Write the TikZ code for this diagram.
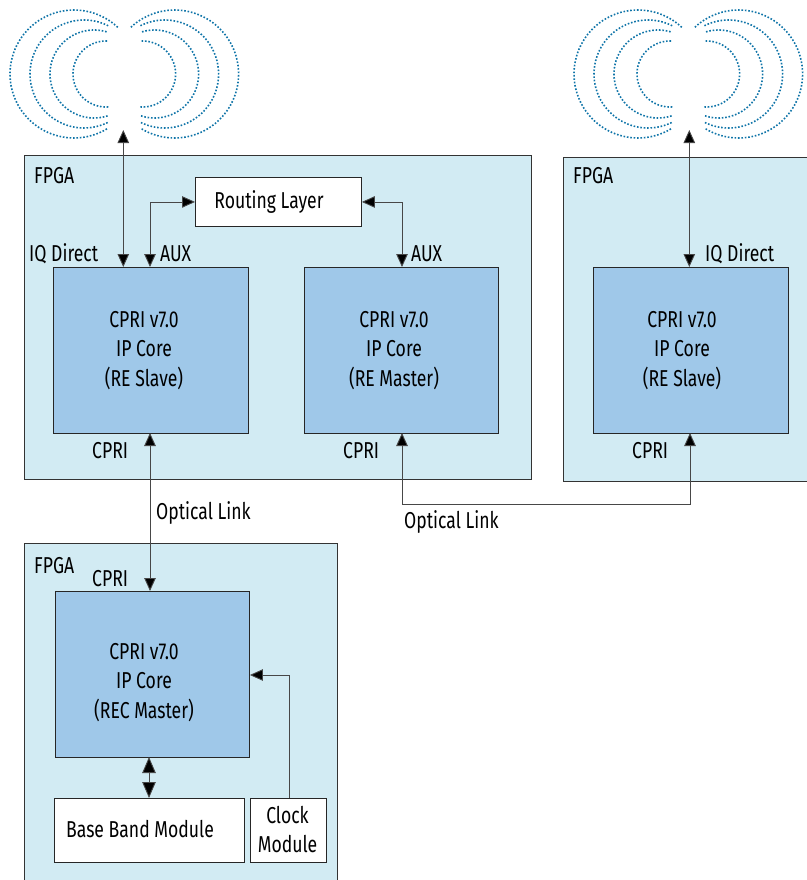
\documentclass[tikz,border=0pt]{standalone}
\usepackage{fontspec}
\setmainfont[FakeStretch=0.765]{Fira Sans}
\usetikzlibrary{arrows.meta}
\definecolor{fpgafill}{HTML}{D2EBF3}
\definecolor{corefill}{HTML}{9FC8E9}
\definecolor{dotblue}{HTML}{0F74A8}
\tikzset{
  fpgabox/.style={draw=black!80,fill=fpgafill,line width=0.9pt},
  corebox/.style={draw=black!85,fill=corefill,line width=0.9pt},
  whitebox/.style={draw=black!85,fill=white,line width=0.9pt},
  boxtext/.style={align=center,font=\fontsize{23}{29.3}\selectfont,inner sep=0pt,text=black},
  lbl/.style={font=\fontsize{23}{26}\selectfont,inner sep=0pt,text=black},
  link/.style={draw=black!72,line width=0.9pt,{Triangle[length=13pt,width=11.5pt,fill=black]}-{Triangle[length=13pt,width=11.5pt,fill=black]}},
  onelink/.style={draw=black!72,line width=0.9pt,-{Triangle[length=13pt,width=11.5pt,fill=black]}},
  biglink/.style={draw=black!72,line width=0.9pt,{Triangle[length=16pt,width=13.5pt,fill=black]}-{Triangle[length=16pt,width=13.5pt,fill=black]}},
  wave/.style={draw=dotblue,line width=1.6pt,dash pattern=on 1.6pt off 1.8pt}
}
\newcommand{\rect}[6]{\node[#1,minimum width=#4pt-#2pt,minimum height=#5pt-#3pt,anchor=north west,inner sep=0pt] (#6) at (#2,#3) {};}
\begin{document}
\begin{tikzpicture}[x=1pt,y=-1pt]
\useasboundingbox (0,0) rectangle (806,880);
% antennas
\foreach \ax in {124.3,688.3}{
 \foreach \s in {1,-1}{
  \foreach \co/\r/\a/\b in {18.3/33/86/274, 30.3/44/72/287, 40.3/54/64/298, 50.3/64/59/314}{
   \draw[wave] plot[domain=\a:\b,samples=70] ({\ax+\s*(-\co+\r*cos(\x))},{74+\r*sin(\x)});
  }
 }
}
% FPGA boxes
\rect{fpgabox}{23.5}{155}{531}{479}{fpgaA}
\rect{fpgabox}{563}{157}{812}{481}{fpgaB}
\rect{fpgabox}{23.5}{543}{337}{886}{fpgaC}
\node[lbl,anchor=west] (fa) at (34,176) {FPGA};
\node[lbl,anchor=west] (fb) at (573,176) {FPGA};
\node[lbl,anchor=west] (fc) at (34,566) {FPGA};
% cores
\rect{corebox}{53}{267}{248}{433}{coreA}
\rect{corebox}{304}{267}{498}{433}{coreB}
\rect{corebox}{593}{267}{788}{433}{coreC}
\rect{corebox}{55}{591}{249}{757}{coreD}
\node[boxtext] (tA) at (144,350.5) {CPRI v7.0\\IP Core\\(RE Slave)};
\node[boxtext] (tB) at (394,350.5) {CPRI v7.0\\IP Core\\(RE Master)};
\node[boxtext] (tC) at (682,350.5) {CPRI v7.0\\IP Core\\(RE Slave)};
\node[boxtext] (tD) at (144,682.5) {CPRI v7.0\\IP Core\\(REC Master)};
% white
\rect{whitebox}{195}{177}{361}{226}{route}
\rect{whitebox}{54}{798}{244}{862}{base}
\rect{whitebox}{250}{798}{326}{862}{clock}
\node[boxtext] (tR) at (269,201.5) {Routing Layer};
\node[boxtext] (tBB) at (140,829.5) {Base Band Module};
\node[boxtext] (tCk) at (287.5,829.5) {Clock\\Module};
% named free ends
\coordinate (antA) at (123.3,130);
\coordinate (antB) at (689.3,130);
% connectors
\draw[link] (antA) -- (antA |- coreA.north);
\draw[link] (antB) -- (antB |- coreC.north);
\draw[link] (150,267) |- (route.west);
\draw[link] (route.east) -| (402,267);
\draw[link] (150,433) -- (150,591);
\draw[link] (402,433) |- (690,504) -- (690,433);
\draw[onelink] (289,798) |- (coreD.east |- 0,675);
\draw[biglink] (149,757) -- (149,798);
% labels
\node[lbl,anchor=west] (l1) at (29,254) {IQ Direct};
\node[lbl,anchor=west] (l2) at (160,254) {AUX};
\node[lbl,anchor=west] (l3) at (411,254) {AUX};
\node[lbl,anchor=west] (l4) at (705,254) {IQ Direct};
\node[lbl,anchor=west] (l5) at (92,451) {CPRI};
\node[lbl,anchor=west] (l6) at (343,451) {CPRI};
\node[lbl,anchor=west] (l7) at (632,451) {CPRI};
\node[lbl,anchor=west] (l8) at (92,579) {CPRI};
\node[lbl,anchor=west] (l9) at (156,513) {Optical Link};
\node[lbl,anchor=west] (l10) at (404,522) {Optical Link};
\end{tikzpicture}
\end{document}
